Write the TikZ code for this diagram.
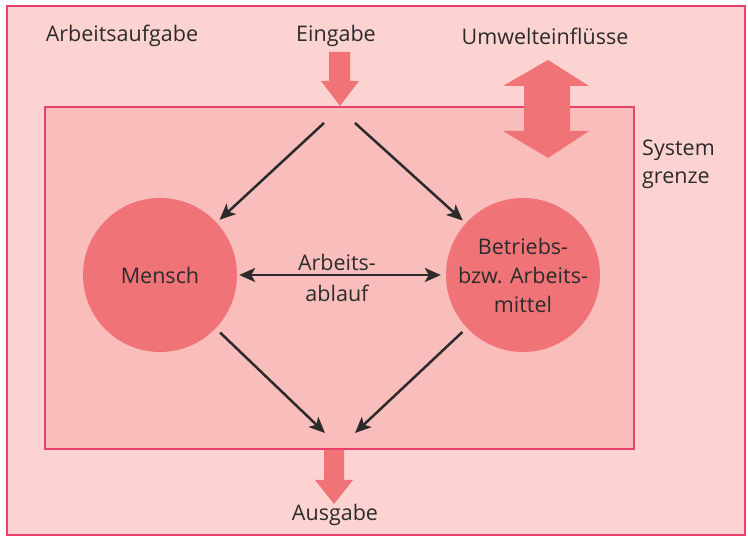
\documentclass[tikz,border=0pt]{standalone}
\usepackage{fontspec}
\setmainfont{Open Sans}
\usetikzlibrary{arrows.meta}
\definecolor{outerfill}{HTML}{FCD3D0}
\definecolor{innerfill}{HTML}{F9BDBB}
\definecolor{framecol}{HTML}{E8426B}
\definecolor{redfill}{HTML}{F07378}
\definecolor{txtcol}{HTML}{2B2B2B}
\tikzset{
  mytip/.tip={Stealth[length=16pt,width=14pt,inset=4pt]},
  lbl/.style={font=\fontsize{21.5}{28}\selectfont, text=txtcol, inner sep=0pt, align=center},
  ball/.style={circle, fill=redfill, minimum size=154pt, inner sep=0pt, font=\fontsize{21.5}{29}\selectfont, text=txtcol, align=center},
  conn/.style={draw=txtcol, line width=2.5pt, -{mytip}, shorten >=4pt},
  bigarrow/.style={fill=redfill, draw=none}
}
\begin{document}
\begin{tikzpicture}[x=1pt,y=-1pt]
\useasboundingbox (0,0) rectangle (748,537);
\draw[fill=outerfill, draw=framecol, line width=1.5pt] (7,6) rectangle (745,535);
\draw[fill=innerfill, draw=framecol, line width=1.5pt] (45,107) rectangle (634,449);
% labels
\node[lbl] (task) at (122,36) {Arbeitsaufgabe};
\node[lbl] (in) at (336,36) {Eingabe};
\node[lbl] (env) at (545,36) {Umwelteinflüsse};
\node[lbl, align=left, anchor=west] (sys) at (642,164) {System\\grenze};
\node[lbl] (out) at (335,515) {Ausgabe};
% circles
\node[ball] (mensch) at (160,275) {Mensch};
\node[ball] (mittel) at (523,275) {Betriebs-\\bzw. Arbeits-\\mittel};
\node[lbl, font=\fontsize{21.5}{31}\selectfont] (ablauf) at (337,278) {Arbeits-\\ablauf};
% big arrows
\fill[bigarrow] (329,52) -- (350,52) -- (350,81) -- (359,81) -- (340,106) -- (321,81) -- (329,81) -- cycle;
\fill[bigarrow] (324,450) -- (344,450) -- (344,480) -- (353,480) -- (334,504) -- (315,480) -- (324,480) -- cycle;
\fill[bigarrow] (548,60) -- (589,86) -- (570,86) -- (570,131) -- (589,131) -- (548,158) -- (503,131) -- (524,131) -- (524,86) -- (503,86) -- cycle;
% connectors
\coordinate (s1) at (324,123);
\coordinate (s2) at (355,123);
\coordinate (e1) at (325,433);
\coordinate (e2) at (355,433);
\draw[conn] (s1) -- (mensch);
\draw[conn] (s2) -- (mittel);
\draw[conn, shorten <=6pt, shorten >=0pt] (mensch) -- (e1);
\draw[conn, shorten <=6pt, shorten >=0pt] (mittel) -- (e2);
\draw[conn, {mytip}-{mytip}, shorten >=5pt, shorten <=2pt] (mensch) -- (mittel);
\end{tikzpicture}
\end{document}
